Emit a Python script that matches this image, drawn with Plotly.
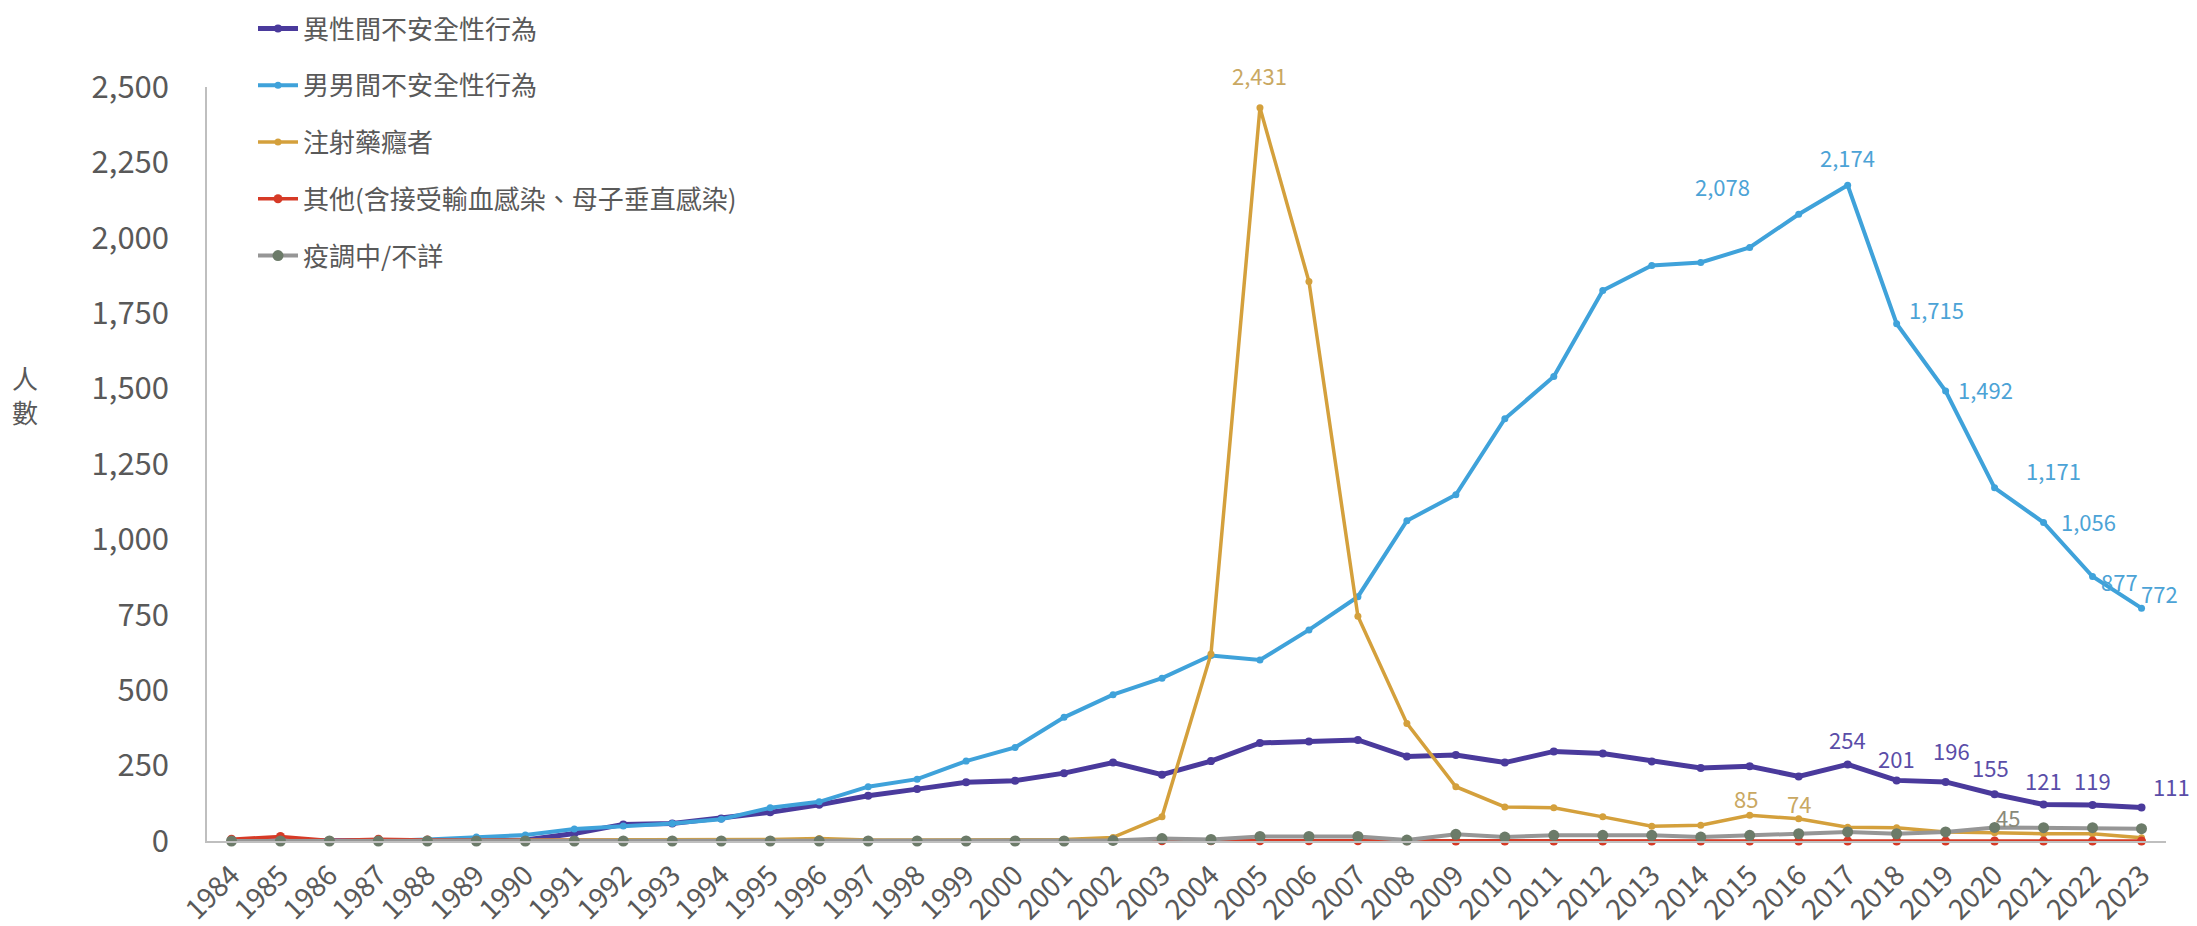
import plotly.graph_objects as go

years = [str(y) for y in range(1984, 2024)]

hetero = [0, 0, 0, 0, 0, 0, 3, 25, 55, 58, 75, 95, 120, 150, 172, 195, 200, 225, 260, 220,
          265, 325, 330, 335, 280, 285, 260, 297, 290, 264, 242, 248, 214, 254, 201, 196, 155, 121, 119, 111]
msm = [0, 0, 0, 0, 5, 13, 20, 40, 50, 58, 72, 110, 130, 180, 205, 265, 310, 410, 485, 540,
       615, 600, 700, 810, 1062, 1148, 1400, 1540, 1825, 1908, 1918, 1968, 2078, 2174, 1715, 1492, 1171, 1056, 877, 772]
idu = [0, 0, 0, 0, 0, 2, 3, 3, 3, 3, 3, 5, 8, 3, 3, 3, 5, 5, 12, 80,
       620, 2431, 1855, 745, 390, 180, 113, 110, 80, 49, 52, 85, 74, 46, 44, 30, 27, 24, 24, 11]
other = [6, 15, 2, 6, 3, 2, 1, 1, 1, 1, 1, 1, 1, 1, 1, 1, 1, 1, 1, 1,
         1, 1, 1, 1, 1, 0, 0, 0, 0, 0, 0, 0, 0, 0, 0, 0, 0, 0, 0, 0]
unknown = [0, 0, 0, 0, 0, 0, 0, 0, 0, 0, 0, 0, 0, 0, 0, 0, 0, 0, 2, 8,
           5, 15, 15, 15, 3, 22, 13, 19, 19, 19, 13, 19, 24, 30, 24, 30, 45, 44, 44, 41]

names = ["異性間不安全性行為", "男男間不安全性行為", "注射藥癮者",
         "其他(含接受輸血感染、母子垂直感染)", "疫調中/不詳"]

# data-label placement: year -> (x shift px, y shift px)
hetero_labels = {"2017": (0, 25), "2018": (0, 22), "2019": (6, 32), "2020": (-4, 27),
                 "2021": (0, 25), "2022": (0, 25), "2023": (30, 22)}
msm_labels = {"2016": (-76, 28), "2017": (0, 28), "2018": (40, 15), "2019": (40, 2),
              "2020": (59, 18), "2021": (45, 2), "2022": (27, -4), "2023": (18, 15)}
idu_labels = {"2005": (0, 33), "2015": (-4, 17), "2016": (0, 16)}
other_labels = {}
unknown_labels = {"2020": (13, 10)}

FONT = "Noto Sans CJK TC, Noto Sans, sans-serif"

series = [
    (hetero, names[0], "#4A3A9C", "#5A4DA8", 5, 8, "#4A3A9C", hetero_labels),
    (msm, names[1], "#3FA2DA", "#4CA3D6", 4, 7, "#3FA2DA", msm_labels),
    (idu, names[2], "#D4A03C", "#C9A862", 3.5, 7, "#D4A03C", idu_labels),
    (other, names[3], "#D63A26", "#D63A26", 3.5, 9, "#D63A26", other_labels),
    (unknown, names[4], "#969696", "#8A8A7A", 4, 11, "#6C7B69", unknown_labels),
]

# page offset compensation (browser body margin)
OFF = 8
W, H = 2197 - OFF, 926 - OFF
L, R, T, B = 207 - OFF, 2197 - 2166, 87 - OFF, 926 - 841
PW, PH = W - L - R, H - T - B

fig = go.Figure()
annotations = []
for i, (vals, name, color, tcolor, lw, ms, mcolor, labels) in enumerate(series):
    fig.add_trace(go.Scatter(
        x=years, y=vals, name=name, mode="lines+markers",
        line=dict(color=color, width=lw),
        marker=dict(color=mcolor, size=ms, symbol="circle"),
        cliponaxis=False, legendgroup=f"g{i}",
    ))
    for k, (y, v) in enumerate(zip(years, vals)):
        if y in labels:
            dx, dy = labels[y]
            annotations.append(dict(
                x=k, y=v, xref="x", yref="y", text=f"{v:,}", showarrow=False,
                xshift=dx, yshift=dy, xanchor="center", yanchor="middle",
                font=dict(family=FONT, size=22, color=tcolor)))

annotations.append(dict(text="人<br>數", x=(25 - 207) / PW, y=(841 - 395) / PH,
                        xref="paper", yref="paper", xanchor="center", yanchor="middle",
                        showarrow=False, font=dict(family=FONT, size=26, color="#595959")))

fig.update_layout(
    width=W, height=H,
    template="none",
    paper_bgcolor="white", plot_bgcolor="white",
    margin=dict(l=L, r=R, t=T, b=B, autoexpand=False),
    font=dict(family=FONT, color="#595959"),
    showlegend=True,
    legend=dict(x=46 / PW, y=1 + 82 / PH, xanchor="left", yanchor="top",
                font=dict(family=FONT, size=26, color="#595959"),
                tracegroupgap=20, bgcolor="rgba(0,0,0,0)", itemwidth=40),
    xaxis=dict(type="category", range=[-0.5, len(years) - 0.5], tickangle=-45,
               showgrid=False, zeroline=False,
               showline=True, linecolor="#BFBFBF", linewidth=1.5,
               ticks="", tickfont=dict(family=FONT, size=28, color="#595959"),
               automargin=False, ticklabelstandoff=5),
    yaxis=dict(range=[0, 2500], tickvals=[0, 250, 500, 750, 1000, 1250, 1500, 1750, 2000, 2250, 2500],
               tickformat=",d", showgrid=False, zeroline=False,
               showline=True, linecolor="#BFBFBF", linewidth=1.5,
               ticks="", tickfont=dict(family=FONT, size=31, color="#595959"),
               automargin=False, ticklabelstandoff=30),
    annotations=annotations,
)

fig.write_html("out.html")
